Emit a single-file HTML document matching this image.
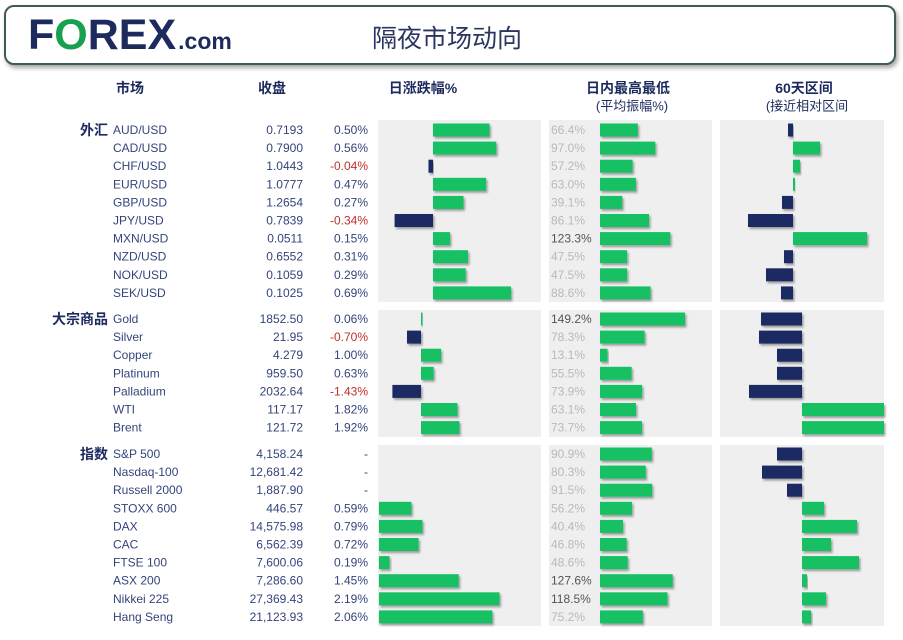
<!DOCTYPE html>
<html><head><meta charset="utf-8">
<style>
body{margin:0;width:903px;height:640px;background:#fff;overflow:hidden;font-family:"Liberation Sans","Noto Sans CJK SC",sans-serif;}
#hdr{position:absolute;left:4px;top:5px;width:888px;height:56px;border:2px solid #3f5a58;border-radius:10px;box-shadow:2px 3px 4px rgba(0,0,0,0.35);background:#fff;}
#logo{position:absolute;left:22px;top:4px;font-size:43px;font-weight:bold;color:#1c2a5e;letter-spacing:0px;font-family:"Liberation Sans",sans-serif;white-space:nowrap;}
#logo .o{color:#16a050}
#logo small{font-size:23px;letter-spacing:0;margin-left:2px}
#title{position:absolute;left:366px;top:12px;font-size:25px;color:#2a3560;}
svg{position:absolute;left:0;top:0}
</style></head><body>
<div id="hdr">
<div id="logo">F<span class="o">O</span>REX<small>.com</small></div>
<div id="title">隔夜市场动向</div>
</div>
<svg id="chart" width="903" height="640"></svg>
<script>
const sections=["外汇","大宗商品","指数"];
const fxNames=["AUD/USD","CAD/USD","CHF/USD","EUR/USD","GBP/USD","JPY/USD","MXN/USD","NZD/USD","NOK/USD","SEK/USD"];
const fxClose=["0.7193","0.7900","1.0443","1.0777","1.2654","0.7839","0.0511","0.6552","0.1059","0.1025"];
const fxChange=[0.50,0.56,-0.04,0.47,0.27,-0.34,0.15,0.31,0.29,0.69];
const fxRange=[66.4,97.0,57.2,63.0,39.1,86.1,123.3,47.5,47.5,88.6];
const fx60=[-5,27,7,2,-11,-45,74,-9,-27,-12];
const cmNames=["Gold","Silver","Copper","Platinum","Palladium","WTI","Brent"];
const cmClose=["1852.50","21.95","4.279","959.50","2032.64","117.17","121.72"];
const cmChange=[0.06,-0.70,1.00,0.63,-1.43,1.82,1.92];
const cmRange=[149.2,78.3,13.1,55.5,73.9,63.1,73.7];
const cm60=[-41,-43,-25,-25,-53,82,82];
const ixNames=["S&P 500","Nasdaq-100","Russell 2000","STOXX 600","DAX","CAC","FTSE 100","ASX 200","Nikkei 225","Hang Seng"];
const ixClose=["4,158.24","12,681.42","1,887.90","446.57","14,575.98","6,562.39","7,600.06","7,286.60","27,369.43","21,123.93"];
const ixChange=[null,null,null,0.59,0.79,0.72,0.19,1.45,2.19,2.06];
const ixRange=[90.9,80.3,91.5,56.2,40.4,46.8,48.6,127.6,118.5,75.2];
const ix60=[-25,-40,-15,22,55,29,57,5,24,9];

const NS="http://www.w3.org/2000/svg";
const svg=document.getElementById('chart');
const GREEN="#12c064",NAVY="#1b2a63";
function mk(tag,attrs,parent){const e=document.createElementNS(NS,tag);for(const k in attrs)e.setAttribute(k,attrs[k]);(parent||svg).appendChild(e);return e;}
function txt(x,y,s,opt){const t=mk('text',Object.assign({x:x,y:y,'font-size':12,fill:'#34447a','dominant-baseline':'central'},opt||{}));t.textContent=s;return t;}

const defs=mk('defs',{});
const f=mk('filter',{id:'sh',x:'-10%',y:'-10%',width:'130%',height:'160%'},defs);
mk('feDropShadow',{dx:1.5,dy:2,stdDeviation:1,'flood-color':'#000','flood-opacity':0.35},f);

const hdrs=[["市场",130,88],["收盘",272,88],["日涨跌幅%",423,88],["日内最高最低",628,88],["(平均振幅%)",632,106],["60天区间",804,88],["(接近相对区间",807,106]];
hdrs.forEach(h=>{const t=txt(h[1],h[2],h[0],{'text-anchor':'middle','font-size':h[2]>100?13:14,'font-weight':h[2]>100?'normal':'bold',fill:'#1c2a5e'});

});

const cfg=[
 {label:sections[0],names:fxNames,close:fxClose,chg:fxChange,rng:fxRange,r60:fx60,top:120,bot:302,y0:130,zero:433,scale:113,ax60:793},
 {label:sections[1],names:cmNames,close:cmClose,chg:cmChange,rng:cmRange,r60:cm60,top:310,bot:437,y0:319,zero:421,scale:20,ax60:802},
 {label:sections[2],names:ixNames,close:ixClose,chg:ixChange,rng:ixRange,r60:ix60,top:445,bot:626,y0:454,zero:379,scale:55,ax60:802}
];
const STEP=18.1,BH=13,RSTART=600,RSCALE=0.57;
function yPos(c,i){return c.y0+i*STEP;}
function xChg(c,v){return c.zero+v*c.scale;}
function xRng(v){return RSTART+v*RSCALE;}
function x60(c,v){return c.ax60+v;}

cfg.forEach((c,si)=>{
  [[378,541],[549,712],[720,884]].forEach((p,pi)=>{
    const r=mk('rect',{x:p[0],y:c.top,width:p[1]-p[0],height:c.bot-c.top,fill:'#efefef'});
    
    
  });
  const sl=txt(108,c.y0,c.label,{'text-anchor':'end','font-size':14,'font-weight':'bold',fill:'#1c2a5e'});
  
  
  c.names.forEach((n,i)=>{
    const y=yPos(c,i);
    const a=txt(113,y,n);
    
    
    const b=txt(303,y,c.close[i],{'text-anchor':'end'});
    
    
    const v=c.chg[i];
    const d=txt(368,y,v===null?'-':v.toFixed(2)+'%',{'text-anchor':'end',fill:v!==null&&v<0?'#c0302a':'#34447a'});
    
    
    if(v!==null){
      const x1=xChg(c,v),x0=c.zero;
      const bar=mk('rect',{x:Math.min(x0,x1),y:y-BH/2,width:Math.max(1.5,Math.abs(x1-x0)),height:BH,fill:v<0?NAVY:GREEN,filter:'url(#sh)'});
      
      
    }
    const rv=c.rng[i];
    const rt=txt(551,y,rv.toFixed(1)+'%',{fill:rv>100?'#555':'#b9b9b9'});
    
    
    const rb=mk('rect',{x:RSTART,y:y-BH/2,width:xRng(rv)-RSTART,height:BH,fill:GREEN,filter:'url(#sh)'});
    
    
    const s=c.r60[i],sx=x60(c,s);
    const sb=mk('rect',{x:Math.min(c.ax60,sx),y:y-BH/2,width:Math.max(2,Math.abs(sx-c.ax60)),height:BH,fill:s<0?NAVY:GREEN,filter:'url(#sh)'});
    
    
  });
});
</script>
</body></html>
